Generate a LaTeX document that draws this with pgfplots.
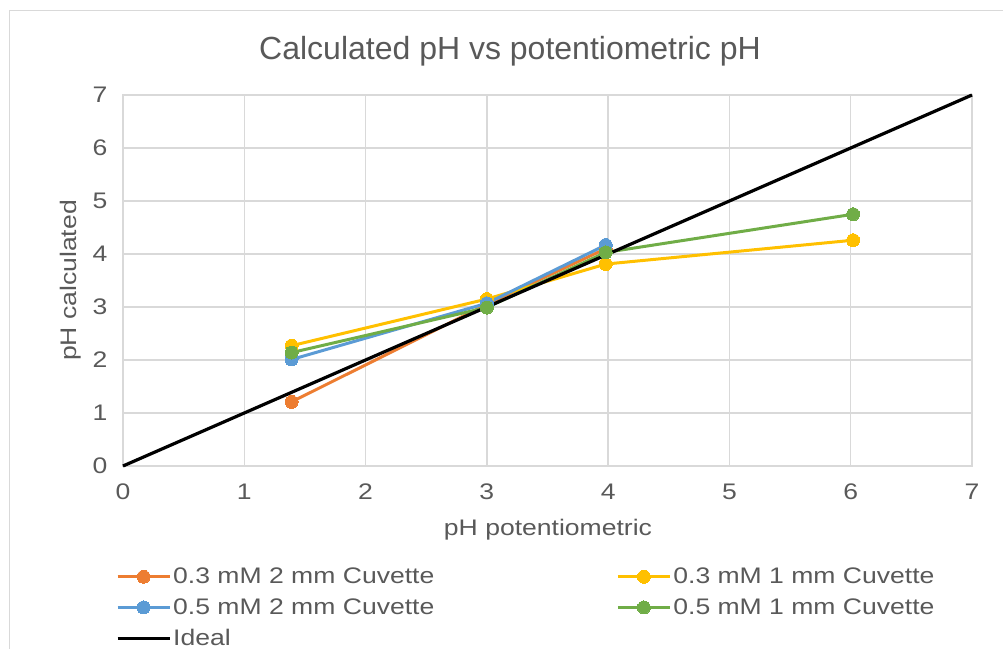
\documentclass[border=0pt]{standalone}
\usepackage{pgfplots}
\pgfplotsset{compat=1.18}
\usepackage{fontspec}
\setmainfont{Liberation Sans}
\newfontfamily\wide{Liberation Sans}[FakeStretch=1.18]
\definecolor{txt}{HTML}{595959}
\definecolor{gridc}{HTML}{D9D9D9}
\definecolor{corange}{HTML}{ED7D31}
\definecolor{cyellow}{HTML}{FFC000}
\definecolor{cblue}{HTML}{5B9BD5}
\definecolor{cgreen}{HTML}{70AD47}
\begin{document}
\begin{tikzpicture}[x=1pt,y=1pt]
\useasboundingbox (0,0) rectangle (1003,648);
\draw[gridc, line width=1.5pt] (9.5,-5) -- (9.5,637.5) -- (1010,637.5);
\begin{axis}[
  at={(123pt,182pt)}, anchor=south west,
  scale only axis, width=849pt, height=371pt,
  xmin=0, xmax=7, ymin=0, ymax=7,
  xtick={0,1,...,7}, ytick={0,1,...,7},
  grid=major, major grid style={gridc, line width=1.3pt},
  axis line style={gridc, line width=1.3pt},
  major tick length=0pt,
  /pgf/number format/assume math mode=true,
  ticklabel style={font=\wide\fontsize{22.5}{26}\selectfont, text=txt},
  xticklabel style={yshift=-14pt},
  yticklabel style={xshift=-12pt},
  legend columns=2,
  legend cell align=left,
  legend style={draw=none, fill=none, font=\wide\fontsize{22.5}{26}\selectfont, text=txt,
    at={(-0.012,-0.264)}, anchor=north west,
    /tikz/every even column/.append style={column sep=180pt},
    row sep=9.5pt},
  legend image code/.code={\draw[mark repeat=2,mark phase=2,#1] plot coordinates {(0pt,0pt) (26pt,0pt) (52pt,0pt)};},
  every axis plot/.append style={line width=3pt},
  clip=false,
]
\addplot[corange, mark=*, mark size=6.5pt, mark options={solid, fill=corange, draw=corange, line width=0pt}] coordinates {(1.39,1.21) (3.0,3.05) (3.98,4.1)};
\addlegendentry{0.3 mM 2 mm Cuvette}
\addplot[cyellow, mark=*, mark size=6.5pt, mark options={solid, fill=cyellow, draw=cyellow, line width=0pt}] coordinates {(1.39,2.27) (3.0,3.15) (3.98,3.81) (6.02,4.26)};
\addlegendentry{0.3 mM 1 mm Cuvette}
\addplot[cblue, mark=*, mark size=6.5pt, mark options={solid, fill=cblue, draw=cblue, line width=0pt}] coordinates {(1.39,2.01) (3.0,3.07) (3.98,4.17)};
\addlegendentry{0.5 mM 2 mm Cuvette}
\addplot[cgreen, mark=*, mark size=6.5pt, mark options={solid, fill=cgreen, draw=cgreen, line width=0pt}] coordinates {(1.39,2.14) (3.0,2.99) (3.98,4.03) (6.02,4.75)};
\addlegendentry{0.5 mM 1 mm Cuvette}
\addplot[black, line width=3.2pt] coordinates {(0,0) (7,7)};
\addlegendentry{Ideal}
\end{axis}
\node[font=\fontsize{32}{36}\selectfont, text=txt, anchor=base] at (510,588) {Calculated pH vs potentiometric pH};
\node[font=\wide\fontsize{22.5}{26}\selectfont, text=txt, anchor=base] at (548,113) {pH potentiometric};
\node[font=\wide\fontsize{22.5}{26}\selectfont, text=txt, anchor=base, rotate=90] at (76,367.5) {pH calculated};
\end{tikzpicture}
\end{document}
